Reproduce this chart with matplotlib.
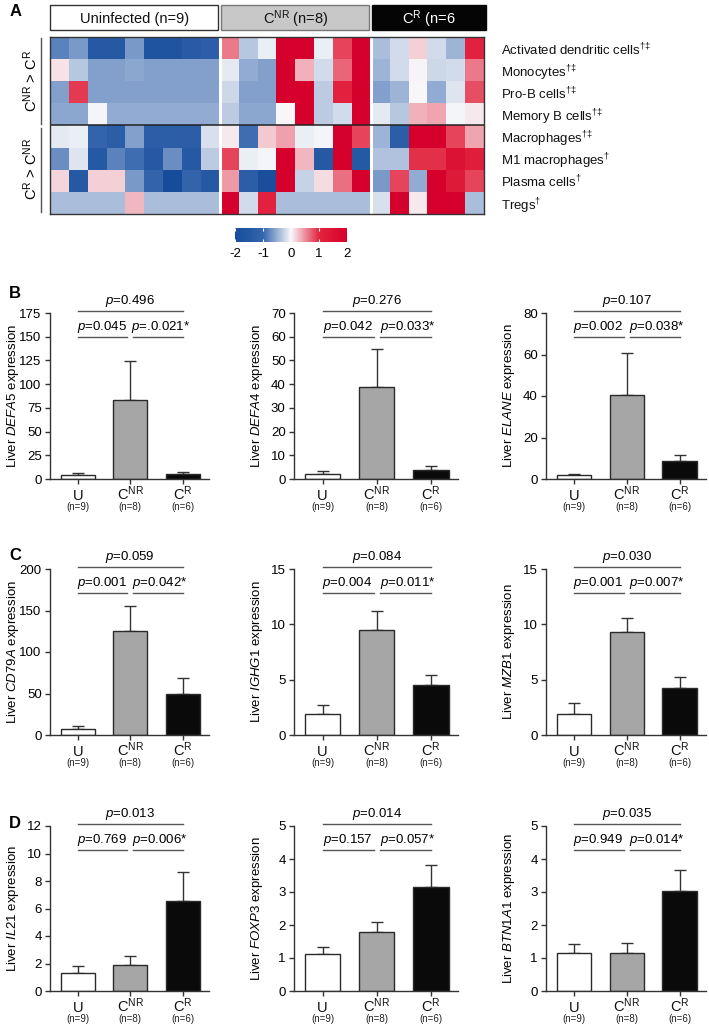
import numpy as np
import matplotlib
matplotlib.use('Agg')
import matplotlib.pyplot as plt
from matplotlib.colors import LinearSegmentedColormap
from matplotlib.patches import Rectangle
from matplotlib.lines import Line2D

plt.rcParams['font.family'] = ['Liberation Sans', 'DejaVu Sans']
plt.rcParams['mathtext.fontset'] = 'custom'
plt.rcParams['mathtext.rm'] = 'Liberation Sans'
plt.rcParams['mathtext.it'] = 'Liberation Sans:italic'
plt.rcParams['mathtext.bf'] = 'Liberation Sans:bold'
plt.rcParams['axes.unicode_minus'] = False

# ---------------- data ----------------
group_labels = [r'Uninfected (n=9)', r'C$^{\mathrm{NR}}$ (n=8)', r'C$^{\mathrm{R}}$ (n=6']
group_sizes = [9, 8, 6]
cell_types = [
    r'Activated dendritic cells$^{\mathrm{†‡}}$',
    r'Monocytes$^{\mathrm{†‡}}$',
    r'Pro-B cells$^{\mathrm{†‡}}$',
    r'Memory B cells$^{\mathrm{†‡}}$',
    r'Macrophages$^{\mathrm{†‡}}$',
    r'M1 macrophages$^{\mathrm{†}}$',
    r'Plasma cells$^{\mathrm{†}}$',
    r'Tregs$^{\mathrm{†}}$',
]
row_adc = [-0.8, -0.65, -1.5, -1.5, -0.65, -1.7, -1.7, -1.4, -1.3,
           0.6, -0.33, -0.07, 2.0, 2.0, -0.07, 0.85, 2.0,
           -0.4, -0.2, 0.2, -0.2, -0.46, 1.1]
row_mono = [0.1, -0.33, -0.6, -0.6, -0.55, -0.6, -0.6, -0.6, -0.6,
            -0.1, -0.52, -0.6, 2.0, 0.33, -0.2, 0.7, 2.0,
            -0.46, -0.2, 0.03, -0.23, -0.2, 0.6]
row_prob = [-0.6, 0.9, -0.6, -0.6, -0.6, -0.6, -0.6, -0.6, -0.6,
            -0.23, -0.6, -0.6, 2.0, 2.0, -0.3, 1.1, 2.0,
            -0.6, -0.46, 0.0, -0.52, -0.13, 0.8]
row_memb = [-0.55, -0.55, -0.03, -0.52, -0.52, -0.52, -0.52, -0.52, -0.52,
            -0.3, -0.55, -0.55, 0.0, 2.0, -0.3, -0.2, 2.0,
            -0.1, -0.33, 0.33, 0.4, -0.03, 0.07]
row_macro = [-0.1, -0.07, -1.1, -1.3, -0.6, -1.3, -1.3, -1.3, -0.16,
             0.07, -0.95, 0.23, 0.42, -0.07, -0.03, 2.0, 0.85,
             -0.46, -1.3, 2.0, 2.0, 0.85, 0.4]
row_m1 = [-0.72, -0.13, -1.5, -0.8, -0.95, -1.5, -0.72, -1.5, -0.3,
          0.85, -0.07, -0.03, 2.0, 0.3, -1.5, 2.0, -1.5,
          -0.36, -0.36, 0.95, 0.95, 1.5, 1.2]
row_plasma = [0.16, -1.5, 0.2, 0.2, -0.65, -1.1, -2.0, -1.1, -1.5,
              0.45, -1.3, -1.9, 2.0, -0.26, 0.13, 0.65, 2.0,
              -0.65, 0.85, -0.52, 2.0, 1.3, 0.85]
row_treg = [-0.4, -0.4, -0.4, -0.4, 0.3, -0.4, -0.4, -0.4, -0.4,
            2.0, -0.2, 1.1, -0.4, -0.4, -0.4, -0.4, -0.4,
            -0.16, 2.0, 0.07, 2.0, 2.0, -0.4]
heat_rows = [row_adc, row_mono, row_prob, row_memb, row_macro, row_m1, row_plasma, row_treg]
cbar_ticks = [-2, -1, 0, 1, 2]

bar_groups = ['U', r'C$^{\mathrm{NR}}$', r'C$^{\mathrm{R}}$']
bar_ns = ['(n=9)', '(n=8)', '(n=6)']
bar_colors = ['white', '#a6a6a6', '#0a0a0a']

genes = ['DEFA5', 'DEFA4', 'ELANE', 'CD79A', 'IGHG1', 'MZB1', 'IL21', 'FOXP3', 'BTN1A1']
means = [
    [4.2, 83.0, 5.3],
    [2.1, 39.0, 3.95],
    [1.9, 40.4, 8.6],
    [6.8, 124.7, 49.5],
    [1.87, 9.45, 4.56],
    [1.87, 9.27, 4.26],
    [1.33, 1.87, 6.57],
    [1.12, 1.78, 3.14],
    [1.16, 1.14, 3.03],
]
errs = [
    [1.8, 41.0, 2.4],
    [1.2, 16.0, 1.45],
    [0.4, 20.2, 3.2],
    [4.1, 30.6, 18.9],
    [0.85, 1.78, 0.9],
    [1.06, 1.33, 0.96],
    [0.51, 0.65, 2.08],
    [0.2, 0.31, 0.67],
    [0.27, 0.31, 0.65],
]
yticks = [
    [0, 25, 50, 75, 100, 125, 150, 175],
    [0, 10, 20, 30, 40, 50, 60, 70],
    [0, 20, 40, 60, 80],
    [0, 50, 100, 150, 200],
    [0, 5, 10, 15],
    [0, 5, 10, 15],
    [0, 2, 4, 6, 8, 10, 12],
    [0, 1, 2, 3, 4, 5],
    [0, 1, 2, 3, 4, 5],
]
p_overall = ['0.496', '0.276', '0.107', '0.059', '0.084', '0.030', '0.013', '0.014', '0.035']
p_u_cnr = ['0.045', '0.042', '0.002', '0.001', '0.004', '0.001', '0.769', '0.157', '0.949']
p_cnr_cr = ['.0.021*', '0.033*', '0.038*', '0.042*', '0.011*', '0.007*', '0.006*', '0.057*', '0.014*']

# ---------------- figure ----------------
W, H = 709, 1026
fig = plt.figure(figsize=(W / 100, H / 100), dpi=100)


def fbox(x0, y0, x1, y1):
    return [x0 / W, 1 - y1 / H, (x1 - x0) / W, (y1 - y0) / H]


# ---------- panel A heatmap ----------
cmap = LinearSegmentedColormap.from_list(
    'bwr_custom',
    [(0.0, '#164c9a'), (0.25, '#3566ad'), (0.5, '#f8f8fa'),
     (0.75, '#e2253f'), (1.0, '#d6002c')])
data = np.array(heat_rows)
ncol = data.shape[1]
nrow = data.shape[0]

axh = fig.add_axes(fbox(50, 37, 484, 214))
mesh = axh.pcolormesh(np.arange(ncol + 1), np.arange(nrow + 1), data,
                      cmap=cmap, vmin=-2, vmax=2)
axh.set_xlim(0, ncol)
axh.set_ylim(nrow, 0)
axh.set_xticks([])
axh.yaxis.tick_right()
axh.set_yticks(np.arange(nrow) + 0.5)
axh.set_yticklabels(cell_types, fontsize=9.5, color='#111111')
axh.tick_params(axis='y', length=0, pad=12)
for s in axh.spines.values():
    s.set_color('#333333')
    s.set_linewidth(1)
bounds = np.cumsum(group_sizes)[:-1]
for b in bounds:
    axh.axvline(b, color='white', lw=2.2)
axh.axhline(nrow / 2, color='#222222', lw=1.1)

# header boxes
axg = fig.add_axes(fbox(50, 5, 484, 30))
axg.set_xlim(0, ncol)
axg.set_ylim(0, 1)
axg.axis('off')
starts = np.concatenate([[0], np.cumsum(group_sizes)[:-1]])
faces = ['white', '#c8c8c8', '#050505']
edges = ['#333333', '#777777', '#050505']
tcols = ['#111111', '#111111', 'white']
for i, (st, sz) in enumerate(zip(starts, group_sizes)):
    x0 = st + (0.08 if i > 0 else 0)
    x1 = st + sz - (0.08 if i < len(group_sizes) - 1 else -0.1)
    axg.add_patch(Rectangle((x0, 0), x1 - x0, 1, facecolor=faces[i],
                            edgecolor=edges[i], lw=1, clip_on=False))
    axg.text((x0 + x1) / 2, 0.45, group_labels[i], ha='center', va='center',
             fontsize=10.5, color=tcols[i])

# left labels and brackets
fig.text(31 / W, 1 - 81 / H, r'C$^{\mathrm{NR}}$ > C$^{\mathrm{R}}$', rotation=90,
         ha='center', va='center', fontsize=10.5)
fig.text(31 / W, 1 - 169 / H, r'C$^{\mathrm{R}}$ > C$^{\mathrm{NR}}$', rotation=90,
         ha='center', va='center', fontsize=10.5)
fig.add_artist(Line2D([41 / W, 41 / W], [1 - 38 / H, 1 - 124 / H], color='#555555', lw=1))
fig.add_artist(Line2D([41 / W, 41 / W], [1 - 128 / H, 1 - 212 / H], color='#555555', lw=1))

# colorbar
cax = fig.add_axes(fbox(235, 228, 347, 242))
cb = fig.colorbar(mesh, cax=cax, orientation='horizontal', ticks=cbar_ticks)
cb.outline.set_visible(False)
cax.tick_params(axis='x', direction='in', color='white', length=2.5, width=0.8,
                top=True, bottom=True, labelsize=9.5, pad=4)
cax.set_xticklabels([str(t) for t in cbar_ticks])

fig.text(10 / W, 1 - 11 / H, 'A', fontsize=12, fontweight='bold', ha='left', va='center')

# ---------- bar panels ----------
rows_px = [(313, 479), (569, 735), (826, 991)]
cols_px = [(50, 209), (294, 458), (546, 706)]
letters = ['B', 'C', 'D']
letter_y = [294, 555, 823]

x = np.arange(3)
k = 0
for r, (yt, yb) in enumerate(rows_px):
    fig.text(9 / W, 1 - letter_y[r] / H, letters[r], fontsize=12, fontweight='bold',
             ha='left', va='center')
    for c, (xl, xr) in enumerate(cols_px):
        ax = fig.add_axes(fbox(xl, yt, xr, yb))
        m = means[k]
        e = errs[k]
        ax.errorbar(x, m, yerr=[np.zeros(3), e], fmt='none', ecolor='#333333',
                    elinewidth=1, capsize=4.5, capthick=1, zorder=1)
        ax.bar(x, m, width=0.65, color=bar_colors, edgecolor='#2a2a2a', lw=1, zorder=2)
        yt_list = yticks[k]
        ax.set_ylim(0, yt_list[-1])
        ax.set_yticks(yt_list)
        ax.set_yticklabels([str(v) for v in yt_list], fontsize=9.5)
        ax.set_xlim(-0.53, 2.5)
        ax.set_xticks(x)
        ax.set_xticklabels([])
        ax.tick_params(axis='both', length=3.5, width=1, color='#333333', pad=2.5)
        for s in ['top', 'right']:
            ax.spines[s].set_visible(False)
        for s in ['left', 'bottom']:
            ax.spines[s].set_color('#333333')
            ax.spines[s].set_linewidth(1)
        hpx = yb - yt
        wpx = xr - xl
        tr = ax.get_xaxis_transform()
        for i in range(3):
            ax.text(x[i], -21 / hpx, bar_groups[i], transform=tr,
                    ha='center', va='baseline', fontsize=10.5, color='#111111')
            ax.text(x[i], -28 / hpx, bar_ns[i], transform=tr,
                    ha='center', va='center', fontsize=7, color='#222222')
        ax.set_ylabel(r'Liver $\mathit{%s}$ expression' % genes[k], fontsize=9.5)
        ax.yaxis.set_label_coords(-29 / wpx, 0.5)
        ytop = 1 + 2 / hpx
        ylow = 1 - 24 / hpx
        ax.plot([0, 2], [ytop, ytop], color='#555555', lw=1, transform=tr, clip_on=False)
        ax.plot([0, 0.94], [ylow, ylow], color='#555555', lw=1, transform=tr, clip_on=False)
        ax.plot([1.06, 2], [ylow, ylow], color='#555555', lw=1, transform=tr, clip_on=False)
        ax.text(1, ytop + 10 / hpx, '$p$=' + p_overall[k], transform=tr, ha='center',
                va='center', fontsize=9.5)
        ax.text(0.46, ylow + 10 / hpx, '$p$=' + p_u_cnr[k], transform=tr, ha='center',
                va='center', fontsize=9.5)
        ax.text(1.57, ylow + 10 / hpx, '$p$=' + p_cnr_cr[k], transform=tr, ha='center',
                va='center', fontsize=9.5)
        k += 1

fig.savefig('out.png', dpi=100)
